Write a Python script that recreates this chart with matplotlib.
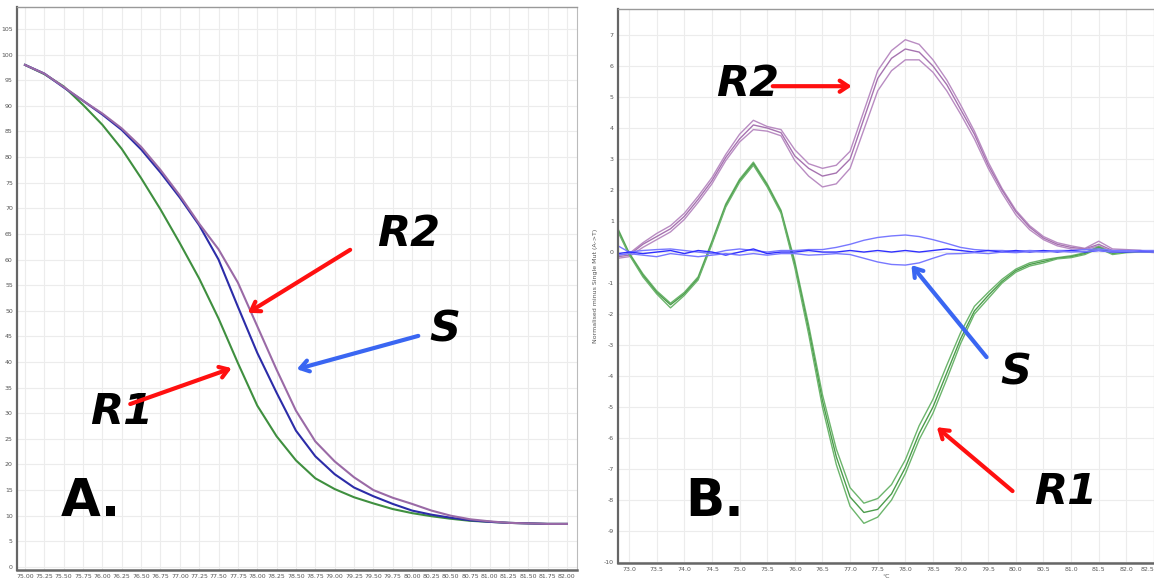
import numpy as np
import matplotlib
matplotlib.use("Agg")
import matplotlib.pyplot as plt

# ---- panel A: melt curves (normalised fluorescence) ----
xa = [75.0, 75.25, 75.5, 75.75, 76.0, 76.25, 76.5, 76.75, 77.0, 77.25, 77.5, 77.75,
      78.0, 78.25, 78.5, 78.75, 79.0, 79.25, 79.5, 79.75, 80.0, 80.25, 80.5, 80.75,
      81.0, 81.25, 81.5, 81.75, 82.0]
melt_r1 = [98.0, 96.2, 93.8, 90.2, 86.3, 81.6, 75.9, 69.8, 63.2, 56.3, 48.5, 39.8,
           31.5, 25.5, 20.8, 17.3, 15.2, 13.6, 12.4, 11.3, 10.5, 9.9, 9.4, 9.0,
           8.8, 8.6, 8.5, 8.4, 8.4]
melt_s = [98.0, 96.3, 93.6, 91.0, 88.3, 85.3, 81.5, 77.0, 72.1, 66.7, 60.0, 50.8,
          41.8, 34.0, 26.6, 21.6, 18.1, 15.5, 13.8, 12.3, 11.0, 10.2, 9.6, 9.1,
          8.8, 8.6, 8.5, 8.4, 8.4]
melt_r2 = [98.0, 96.3, 93.7, 91.0, 88.5, 85.6, 82.0, 77.5, 72.5, 67.0, 62.0, 55.5,
           47.0, 38.5, 30.5, 24.5, 20.6, 17.5, 15.0, 13.5, 12.3, 11.0, 10.0, 9.3,
           8.9, 8.6, 8.5, 8.4, 8.4]
xa_ticks = np.arange(75.0, 82.01, 0.25)
ya_ticks = np.arange(0, 106, 5)

# ---- panel B: difference curves, three replicates each ----
xb = [72.8, 73.0, 73.25, 73.5, 73.75, 74.0, 74.25, 74.5, 74.75, 75.0, 75.25, 75.5,
      75.75, 76.0, 76.25, 76.5, 76.75, 77.0, 77.25, 77.5, 77.75, 78.0, 78.25, 78.5,
      78.75, 79.0, 79.25, 79.5, 79.75, 80.0, 80.25, 80.5, 80.75, 81.0, 81.25, 81.5,
      81.75, 82.0, 82.25, 82.5]
r2_top = [-0.10, -0.05, 0.30, 0.60, 0.85, 1.25, 1.80, 2.40, 3.15, 3.80, 4.25, 4.05,
          3.95, 3.30, 2.85, 2.70, 2.80, 3.25, 4.55, 5.85, 6.50, 6.85, 6.70, 6.20,
          5.55, 4.75, 3.90, 2.90, 2.05, 1.35, 0.85, 0.50, 0.30, 0.20, 0.12, 0.35,
          0.10, 0.08, 0.05, 0.02]
r2_mid = [-0.15, -0.10, 0.25, 0.50, 0.75, 1.15, 1.70, 2.30, 3.05, 3.65, 4.10, 4.00,
          3.85, 3.10, 2.70, 2.45, 2.55, 3.00, 4.30, 5.60, 6.25, 6.55, 6.45, 6.00,
          5.40, 4.60, 3.80, 2.80, 2.00, 1.30, 0.80, 0.45, 0.25, 0.15, 0.10, 0.25,
          0.05, 0.05, 0.05, 0.00]
r2_low = [-0.20, -0.15, 0.15, 0.40, 0.65, 1.05, 1.60, 2.20, 2.95, 3.55, 3.95, 3.90,
          3.75, 2.95, 2.45, 2.10, 2.20, 2.70, 3.95, 5.20, 5.85, 6.20, 6.20, 5.80,
          5.20, 4.45, 3.65, 2.70, 1.90, 1.20, 0.72, 0.40, 0.20, 0.10, 0.08, 0.20,
          0.02, 0.03, 0.02, -0.02]
r1_top = [0.75, -0.02, -0.70, -1.25, -1.65, -1.30, -0.80, 0.35, 1.55, 2.35, 2.90, 2.20,
          1.35, -0.30, -2.35, -4.60, -6.35, -7.60, -8.10, -7.95, -7.50, -6.70, -5.60, -4.75,
          -3.65, -2.60, -1.75, -1.30, -0.88, -0.55, -0.35, -0.25, -0.18, -0.12, -0.02, 0.18,
          -0.03, 0.02, 0.00, 0.00]
r1_mid = [0.70, -0.05, -0.75, -1.30, -1.70, -1.35, -0.85, 0.30, 1.50, 2.30, 2.85, 2.15,
          1.30, -0.40, -2.50, -4.80, -6.60, -7.90, -8.40, -8.30, -7.80, -6.95, -5.85, -5.00,
          -3.90, -2.80, -1.90, -1.40, -0.95, -0.60, -0.40, -0.30, -0.20, -0.15, -0.05, 0.15,
          -0.05, 0.00, 0.00, 0.00]
r1_low = [0.65, -0.08, -0.80, -1.35, -1.80, -1.40, -0.90, 0.25, 1.45, 2.25, 2.80, 2.10,
          1.25, -0.50, -2.65, -5.00, -6.85, -8.20, -8.75, -8.55, -8.00, -7.15, -6.05, -5.20,
          -4.10, -2.95, -2.00, -1.50, -1.00, -0.65, -0.45, -0.35, -0.22, -0.18, -0.08, 0.12,
          -0.08, -0.02, 0.00, 0.00]
s_up = [0.20, 0.00, 0.05, 0.08, 0.10, 0.05, 0.00, -0.05, 0.05, 0.10, 0.05, 0.00,
        0.05, 0.05, 0.08, 0.08, 0.15, 0.25, 0.38, 0.47, 0.52, 0.55, 0.50, 0.40,
        0.28, 0.15, 0.08, 0.05, 0.05, 0.02, 0.05, 0.03, 0.05, 0.05, 0.08, 0.10,
        0.05, 0.05, 0.05, 0.05]
s_flat = [-0.05, 0.00, -0.05, 0.00, 0.05, -0.05, 0.05, 0.00, -0.10, 0.00, 0.10, -0.05,
          0.00, 0.00, 0.05, 0.00, 0.00, 0.05, 0.00, 0.05, 0.00, 0.05, 0.00, 0.05,
          0.10, 0.05, 0.00, 0.05, 0.00, 0.05, 0.00, 0.05, 0.00, 0.05, 0.00, 0.05,
          0.00, 0.00, 0.02, 0.00]
s_down = [-0.10, -0.05, -0.10, -0.15, -0.05, -0.10, -0.15, -0.10, -0.05, -0.10, -0.05, -0.10,
          -0.05, -0.05, -0.10, -0.08, -0.05, -0.08, -0.20, -0.32, -0.40, -0.42, -0.35, -0.20,
          -0.06, -0.05, -0.02, -0.05, 0.00, -0.02, 0.02, 0.00, 0.03, 0.00, 0.02, 0.05,
          0.00, 0.02, 0.00, 0.00]
xb_ticks = np.arange(73.0, 82.51, 0.5)
yb_ticks = np.arange(-10, 8, 1)

GREEN, BLUE, PURPLE = "#3f8f3f", "#2c2ca8", "#9a6aa6"
TICKFONT = ["Liberation Sans Narrow", "DejaVu Sans"]

W, H = 1154, 585
fig = plt.figure(figsize=(W / 100, H / 100), dpi=100)
fig.patch.set_facecolor("white")


def style(ax):
    ax.set_facecolor("white")
    ax.grid(True, color="#ececec", lw=0.8)
    ax.set_axisbelow(True)
    ax.tick_params(length=0, labelsize=4.5, labelcolor="#555", pad=3)
    for lab in ax.get_xticklabels() + ax.get_yticklabels():
        lab.set_family(TICKFONT)
    ax.spines["left"].set_color("#666"); ax.spines["left"].set_linewidth(1.6)
    ax.spines["bottom"].set_color("#666"); ax.spines["bottom"].set_linewidth(1.8)
    ax.spines["top"].set_color("#999"); ax.spines["top"].set_linewidth(1.0)
    ax.spines["right"].set_color("#bbb"); ax.spines["right"].set_linewidth(0.8)


def tag(ax, x, y, s, size=31, italic=True):
    ax.text(x, y, s, fontsize=size, fontweight="bold", style="italic" if italic else "normal",
            ha="center", va="center", color="black", family="DejaVu Sans", zorder=6)


def arrow(ax, tail, head, col):
    ax.annotate("", xy=head, xytext=tail, annotation_clip=False, zorder=6,
                arrowprops=dict(arrowstyle="->,head_length=0.6,head_width=0.4",
                                color=col, lw=3.0, shrinkA=0, shrinkB=0))


# ---------------- panel A ----------------
axA = fig.add_axes([17 / W, 15 / H, 560 / W, 563 / H])
axA.plot(xa, melt_r1, color=GREEN, lw=1.5)
axA.plot(xa, melt_s, color=BLUE, lw=1.5)
axA.plot(xa, melt_r2, color=PURPLE, lw=1.5)
axA.set_xlim(74.897, 82.13)
axA.set_ylim(-0.6, 109.3)
axA.set_xticks(xa_ticks)
axA.set_xticklabels([f"{v:.2f}" for v in xa_ticks])
axA.set_yticks(ya_ticks)
axA.set_yticklabels([f"{v:d}" for v in ya_ticks])
style(axA)

tag(axA, 79.96, 65.0, "R2")
tag(axA, 80.42, 46.3, "S")
tag(axA, 76.25, 30.2, "R1")
tag(axA, 75.85, 12.7, "A.", size=37, italic=False)
arrow(axA, (79.20, 61.9), (77.88, 49.6), "#ff1010")
arrow(axA, (80.08, 45.1), (78.51, 38.6), "#3a66f2")
arrow(axA, (76.36, 31.8), (77.67, 38.8), "#ff1010")

# ---------------- panel B ----------------
axB = fig.add_axes([618 / W, 22 / H, 536 / W, 554 / H])
for ys, c in [(r2_top, "#b98cc2"), (r2_mid, "#a673b0"), (r2_low, "#b98cc2")]:
    axB.plot(xb, ys, color=c, lw=1.0)
for ys, c in [(r1_top, "#6cb56c"), (r1_mid, "#4c9c4c"), (r1_low, "#6cb56c")]:
    axB.plot(xb, ys, color=c, lw=1.0)
for ys, c in [(s_up, "#7878ff"), (s_flat, "#2f2fff"), (s_down, "#7878ff")]:
    axB.plot(xb, ys, color=c, lw=1.0)
axB.set_xlim(72.8, 82.5)
axB.set_ylim(-10.03, 7.84)
axB.set_xticks(xb_ticks)
axB.set_xticklabels([f"{v:.1f}" for v in xb_ticks])
axB.set_yticks(yb_ticks)
axB.set_yticklabels([f"{v:d}" for v in yb_ticks])
style(axB)
axB.get_xticklabels()[-1].set_horizontalalignment("right")  # keep the edge label inside
axB.set_xlabel("°C", fontsize=4.5, color="#555", labelpad=1)
axB.set_ylabel("Normalised minus Single Mut (A->T)", fontsize=4.5, color="#555", labelpad=4)

tag(axB, 75.15, 5.42, "R2")
tag(axB, 80.0, -3.87, "S")
tag(axB, 80.90, -7.74, "R1")
tag(axB, 74.55, -8.06, "B.", size=37, italic=False)
arrow(axB, (75.60, 5.35), (77.03, 5.35), "#ff1010")
arrow(axB, (79.47, -3.39), (78.11, -0.42), "#3a66f2")
arrow(axB, (79.94, -7.71), (78.57, -5.65), "#ff1010")

fig.savefig("out.png", dpi=100)
